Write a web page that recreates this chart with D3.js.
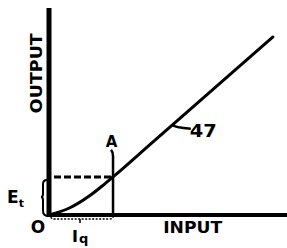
<!DOCTYPE html>
<html lang="en">
<head>
<meta charset="UTF-8">
<title>Transfer characteristic</title>
<script src="https://cdn.jsdelivr.net/npm/d3@7.8.4/dist/d3.min.js"></script>
<style>
    body { margin: 0; background: #fff; }
    svg { display: block; }
    text { font-family: "DejaVu Sans", Arial, sans-serif; font-weight: bold; fill: #000; }
</style>
</head>
<body>
<svg id="chart" width="287" height="248"></svg>
<script>
    // Characteristic curve (input, output), in arbitrary units 0..100
    const curveInput  = [0, 8.8, 17.2, 22.7, 26.9, 42.4, 94.1];
    const curveOutput = [0, 3.5, 9.4, 14.35, 18.4, 34.0, 86.0];
    // Operating point A
    const quiescentInput = 26.9;   // Iq
    const quiescentOutput = 18.4;  // Et
    const curveLabel = "47";
    const curveLabelAt = 52;       // input value where the "47" leader touches the line

    const svg = d3.select("#chart");
    const x = d3.scaleLinear().domain([0, 100]).range([49, 287]);
    const y = d3.scaleLinear().domain([0, 100]).range([215, 8]);

    const pts = curveInput.map((v, i) => [v, curveOutput[i]]);

    // axes
    svg.append("line").attr("x1", x(0)).attr("x2", x(0)).attr("y1", y(100)).attr("y2", y(0) + 2)
        .attr("stroke", "#000").attr("stroke-width", 5);
    svg.append("line").attr("x1", x(0) - 2).attr("x2", x(100)).attr("y1", y(0)).attr("y2", y(0))
        .attr("stroke", "#000").attr("stroke-width", 4);

    // the curve
    const line = d3.line().x(d => x(d[0])).y(d => y(d[1])).curve(d3.curveMonotoneX);
    svg.append("path").datum(pts).attr("d", line)
        .attr("fill", "none").attr("stroke", "#000").attr("stroke-width", 3).attr("stroke-linecap", "round");

    // dashed line to Et
    svg.append("line").attr("x1", x(0) + 5).attr("x2", x(quiescentInput)).attr("y1", y(quiescentOutput)).attr("y2", y(quiescentOutput))
        .attr("stroke", "#000").attr("stroke-width", 3).attr("stroke-dasharray", "7,3");

    // vertical line at Iq with hook pointing to A
    const qx = x(quiescentInput);
    svg.append("path")
        .attr("d", `M${qx},${y(0)} L${qx},${y(28.5)} Q${qx},${y(30.5)} ${qx - 2},${y(31.5)}`)
        .attr("fill", "none").attr("stroke", "#000").attr("stroke-width", 2.5);
    svg.append("text").attr("x", qx - 1.5).attr("y", y(33)).attr("text-anchor", "middle")
        .style("font-size", "15px").text("A");

    // brace for Et
    const by0 = y(quiescentOutput) + 3, by1 = y(0) - 1, bx = x(0) - 6;
    const bm = (by0 + by1) / 2;
    svg.append("path")
        .attr("d", `M${bx + 4},${by0} Q${bx},${by0} ${bx},${by0 + 4} L${bx},${bm - 3} Q${bx},${bm} ${bx - 2},${bm} Q${bx},${bm} ${bx},${bm + 3} L${bx},${by1 - 3} Q${bx},${by1 + 2} ${bx + 6},${by1 + 2}`)
        .attr("fill", "none").attr("stroke", "#000").attr("stroke-width", 2);

    // brace for Iq (dotted, below axis)
    const ix0 = x(0) + 2, ix1 = qx, iy = y(0) + 4;
    svg.append("path")
        .attr("d", `M${ix0},${iy - 2} Q${ix0},${iy} ${ix0 + 4},${iy} L${ix1 - 4},${iy} Q${ix1},${iy} ${ix1},${iy - 2}`)
        .attr("fill", "none").attr("stroke", "#000").attr("stroke-width", 1.5).attr("stroke-dasharray", "2,1.5");
    svg.append("line").attr("x1", 80).attr("x2", 80).attr("y1", iy).attr("y2", iy + 4)
        .attr("stroke", "#000").attr("stroke-width", 1.5);

    // labels
    svg.append("text").attr("transform", `translate(${x(0) - 7},${y(68.5)}) rotate(-90)`)
        .attr("text-anchor", "middle").attr("textLength", 80).attr("lengthAdjust", "spacingAndGlyphs")
        .style("font-size", "16px").text("OUTPUT");
    svg.append("text").attr("x", x(48)).attr("y", y(0) + 18).attr("textLength", 59).attr("lengthAdjust", "spacingAndGlyphs")
        .style("font-size", "16px").text("INPUT");
    svg.append("text").attr("x", x(0) - 11).attr("y", y(0) + 18).attr("text-anchor", "middle")
        .style("font-size", "17px").text("O");
    const it = svg.append("text").attr("x", 72).attr("y", y(0) + 27).style("font-size", "16px");
    it.append("tspan").text("I");
    it.append("tspan").attr("dy", 1).attr("dx", 1).style("font-size", "13px").text("q");
    const et = svg.append("text").attr("x", 7).attr("y", 203).style("font-size", "17px");
    et.append("tspan").text("E");
    et.append("tspan").attr("dy", 4).style("font-size", "11px").text("t");

    // label 47 with leader
    const ly = y(curveOutput[4] + (curveLabelAt - curveInput[4]) * (curveOutput[6] - curveOutput[4]) / (curveInput[6] - curveInput[4]));
    const lx = x(curveLabelAt);
    svg.append("path").attr("d", `M${lx - 1},${ly} Q${lx + 2},${ly + 3} ${lx + 18},${ly + 4}`)
        .attr("fill", "none").attr("stroke", "#000").attr("stroke-width", 2.5);
    svg.append("text").attr("x", lx + 17).attr("y", ly + 12).attr("textLength", 27).attr("lengthAdjust", "spacingAndGlyphs")
        .style("font-size", "18px").text(curveLabel);
</script>
</body>
</html>
